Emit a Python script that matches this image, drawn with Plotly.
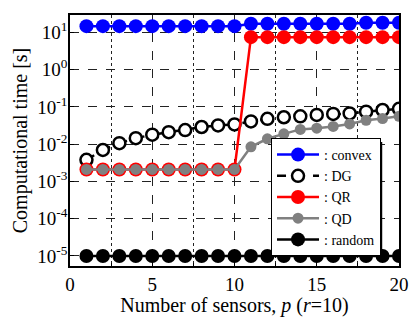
import plotly.graph_objects as go

p = list(range(1, 21))
convex = [14.8]*10 + [17.2]*7 + [18.3]*3
dg = [3.8e-3, 7.0e-3, 1.07e-2, 1.45e-2, 1.8e-2, 2.1e-2, 2.4e-2, 2.9e-2, 3.2e-2, 3.4e-2,
      4.1e-2, 4.8e-2, 5.3e-2, 5.6e-2, 6.1e-2, 6.5e-2, 6.7e-2, 7.5e-2, 8.3e-2, 8.9e-2]
qr = [2.1e-3]*10 + [7.5]*10
qd = [2.1e-3]*10 + [8.5e-3, 1.4e-2, 1.9e-2, 2.5e-2, 2.7e-2, 3.0e-2, 3.5e-2, 4.4e-2, 4.9e-2, 5.6e-2]
rnd = [1.0e-5]*20
names = [": convex", ": DG", ": QR", ": QD", ": random"]
y_tickvals = [1e-5, 1e-4, 1e-3, 1e-2, 1e-1, 1e0, 1e1]
y_ticktext = ["10<sup>-5</sup>", "10<sup>-4</sup>", "10<sup>-3</sup>", "10<sup>-2</sup>",
              "10<sup>-1</sup>", "10<sup>0</sup>", "10<sup>1</sup>"]

FONT = "Liberation Serif"
fig = go.Figure()
fig.add_trace(go.Scatter(x=p, y=convex, name=names[0], mode="lines+markers",
                         line=dict(color="blue", width=2.5), marker=dict(size=14, color="blue")))
fig.add_trace(go.Scatter(x=p, y=dg, name=names[1], mode="lines+markers",
                         line=dict(color="black", width=2.5, dash="dash"),
                         marker=dict(size=12, color="white", line=dict(color="black", width=2.5))))
fig.add_trace(go.Scatter(x=p, y=qr, name=names[2], mode="lines+markers",
                         line=dict(color="red", width=2.5), marker=dict(size=14, color="red")))
fig.add_trace(go.Scatter(x=p, y=qd, name=names[3], mode="lines+markers",
                         line=dict(color="gray", width=2.5), marker=dict(size=11, color="gray")))
fig.add_trace(go.Scatter(x=p, y=rnd, name=names[4], mode="lines+markers",
                         line=dict(color="black", width=2.5), marker=dict(size=14, color="black")))

# legend drop shadow (sits under the legend box)
fig.add_shape(type="rect", xref="paper", yref="paper",
              x0=0.623, x1=0.949, y0=0.064, y1=0.494,
              fillcolor="black", line=dict(width=0), layer="above")

fig.update_layout(
    width=416, height=317,
    margin=dict(l=70, r=17, t=15, b=51),
    paper_bgcolor="white", plot_bgcolor="white",
    font=dict(family=FONT, size=16, color="black"),
    showlegend=True,
    legend=dict(x=0.611, y=0.51, xanchor="left", yanchor="top",
                bgcolor="white", bordercolor="black", borderwidth=1,
                font=dict(family=FONT, size=14), tracegroupgap=0,
                itemwidth=42, itemsizing="trace"),
)
fig.update_xaxes(range=[0, 20], dtick=5, tick0=0, automargin=False,
                 showline=True, linecolor="black", linewidth=1.5, mirror=True,
                 ticks="inside", ticklen=4, tickcolor="black",
                 showgrid=True, gridcolor="#222", gridwidth=1, griddash="dash",
                 minor=dict(dtick=2.5, showgrid=True, gridcolor="#222", griddash="dot",
                            ticks="inside", ticklen=3, tickcolor="black"),
                 zeroline=False,
                 tickfont=dict(family=FONT, size=19),
                 title=dict(text="Number of sensors, <i>p</i> (<i>r</i>=10)",
                            font=dict(family=FONT, size=20), standoff=4))
fig.update_yaxes(type="log", range=[-5.27, 1.47], automargin=False,
                 tickmode="array", tickvals=y_tickvals, ticktext=y_ticktext,
                 showline=True, linecolor="black", linewidth=1.5, mirror=True,
                 ticks="inside", ticklen=4, tickcolor="black",
                 showgrid=True, gridcolor="#222", gridwidth=1, griddash="dash",
                 zeroline=False, ticklabelstandoff=-3,
                 tickfont=dict(family=FONT, size=19),
                 title=dict(text="Computational time [s]",
                            font=dict(family=FONT, size=20), standoff=4))
fig.write_html("out.html", post_script="document.body.style.margin='0';",
               config={"displayModeBar": False})
